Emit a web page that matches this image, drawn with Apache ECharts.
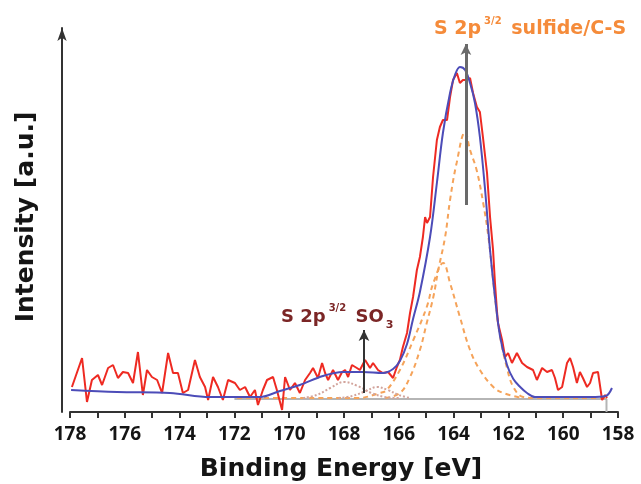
<!DOCTYPE html>
<html>
<head>
<meta charset="utf-8">
<script src="https://cdn.jsdelivr.net/npm/echarts@6/dist/echarts.min.js"></script>
<style>
  html, body { margin: 0; padding: 0; background: #fff; }
  #chart { width: 641px; height: 484px; }
</style>
</head>
<body>
<div id="chart"></div>
<script>
// binding energy ticks (eV)
const xTicks = [178, 176, 174, 172, 170, 168, 166, 164, 162, 160, 158];

// measured spectrum (red)
const redE = [177.93,177.56,177.38,177.20,176.98,176.83,176.61,176.43,176.25,176.07,
  175.88,175.70,175.52,175.34,175.19,175.01,174.82,174.64,174.42,174.24,
  174.06,173.88,173.69,173.44,173.26,173.07,172.96,172.78,172.60,172.42,
  172.23,171.98,171.80,171.61,171.43,171.25,171.14,170.96,170.81,170.59,
  170.45,170.26,170.15,169.97,169.79,169.61,169.42,169.24,169.13,168.95,
  168.80,168.69,168.58,168.40,168.22,168.07,167.96,167.85,167.71,167.53,
  167.42,167.23,167.05,166.94,166.76,166.58,166.39,166.21,166.07,165.96,
  165.85,165.70,165.59,165.48,165.34,165.23,165.12,165.04,164.97,164.86,
  164.75,164.61,164.50,164.39,164.24,164.13,164.02,163.88,163.77,163.66,
  163.51,163.40,163.29,163.15,163.04,162.93,162.78,162.67,162.56,162.49,
  162.42,162.38,162.23,162.12,162.01,161.87,161.69,161.50,161.32,161.10,
  160.96,160.77,160.59,160.41,160.30,160.19,160.04,159.86,159.75,159.64,
  159.50,159.39,159.28,159.13,159.02,158.91,158.73,158.58,158.47,158.40];
const redI = [25,54,10,32,37,27,44,47,34,40,
  39,29,60,17,42,35,32,19,59,39,
  39,19,22,52,35,25,12,35,25,12,
  32,29,22,25,15,22,7,22,32,35,
  22,2,35,22,29,19,32,39,44,34,
  49,39,32,42,32,40,42,35,47,44,
  42,52,44,49,42,39,40,34,45,52,
  65,79,99,115,142,155,175,195,189,195,
  235,272,285,292,292,315,332,339,329,332,
  332,334,319,305,300,275,239,195,162,129,
  102,89,72,55,59,49,59,49,45,42,
  32,44,40,42,34,22,25,49,54,45,
  29,40,34,25,29,39,40,12,17,14];

// fitted envelope (blue)
const fitE = [177.96,176.28,174.35,172.89,171.91,171.07,170.34,169.61,168.77,168.04,
  167.31,166.58,166.21,165.96,165.70,165.48,165.23,164.86,164.61,164.39,
  164.13,163.95,163.77,163.58,163.40,163.22,163.04,162.85,162.67,162.49,
  162.30,162.05,161.82,161.57,161.32,161.03,160.0,159.0,158.45,158.22];
const fitI = [22,20,19,15,15,15,21,27,36,40,
  40,39,43,51,68,93,120,175,229,279,
  319,337,345,342,329,309,275,222,162,115,
  75,47,33,25,19,15,15,15,16,24];

// sulfide / C-S components (orange dashed)
const p1E = [166.5,165.96,165.59,165.23,164.98,164.74,164.56,164.31,164.13,163.89,
  163.58,163.40,163.16,162.92,162.73,162.49,162.30,162.06,161.82,161.46,
  161.0,160.0,159.0,158.42];
const p1I = [14,19,35,62,89,115,142,175,212,249,
  280,262,242,209,175,115,75,45,25,15,
  14,14,14,14];
const p2E = [171.9,169.0,167.5,166.69,166.44,165.96,165.47,164.98,164.74,164.38,
  164.13,163.77,163.40,163.04,162.55,162.19,161.5];
const p2I = [14,14,14,19,22,42,72,105,129,149,
  129,95,62,42,25,19,14];

// SO3 components (dotted)
const s1E = [169.5,169.0,168.5,168.0,167.5,167.0,166.5,166.0];
const s1I = [14,17,24,30,26,19,15,14];
const s2E = [168.2,167.7,167.2,166.8,166.4,166.0,165.6];
const s2I = [14,16,21,25,22,17,14];

// background (grey)
const bgE = [172.0, 158.42, 158.42];
const bgI = [13, 13, 0];

const pairs = (xs, ys) => xs.map((x, i) => [x, ys[i]]);

const chart = echarts.init(document.getElementById("chart"));

const option = {
  animation: false,
  grid: { left: 70, right: 23, top: 28, bottom: 72 },
  xAxis: {
    type: "value",
    inverse: true,
    min: 158,
    max: 178,
    interval: 2,
    axisLine: { lineStyle: { color: "#333", width: 2 } },
    axisTick: { length: 6, lineStyle: { color: "#333", width: 2 } },
    minorTick: { show: true, splitNumber: 2, length: 6, lineStyle: { color: "#333", width: 2 } },
    splitLine: { show: false },
    axisLabel: {
      margin: 13,
      fontFamily: "Open Sans",
      fontWeight: "bold",
      fontSize: 19,
      color: "#151515",
      formatter: (v) => (xTicks.includes(v) ? String(v) : ""),
    },
  },
  yAxis: {
    type: "value",
    min: 0,
    max: 384,
    offset: 8,
    axisLine: {
      show: true,
      symbol: ["none", "arrow"],
      symbolSize: [7, 13],
      lineStyle: { color: "#333", width: 2 },
    },
    axisTick: { show: false },
    axisLabel: { show: false },
    splitLine: { show: false },
  },
  series: [
    {
      name: "background",
      type: "line",
      data: pairs(bgE, bgI),
      symbol: "none",
      lineStyle: { color: "#b5b5b5", width: 2 },
    },
    {
      name: "S2p sulfide",
      type: "line",
      smooth: 0.4,
      data: pairs(p1E, p1I),
      symbol: "none",
      lineStyle: { color: "#f5a35a", width: 2, type: [5, 4] },
    },
    {
      name: "C-S",
      type: "line",
      smooth: 0.4,
      data: pairs(p2E, p2I),
      symbol: "none",
      lineStyle: { color: "#f5a35a", width: 2, type: [5, 4] },
    },
    {
      name: "SO3 a",
      type: "line",
      smooth: 0.4,
      data: pairs(s1E, s1I),
      symbol: "none",
      lineStyle: { color: "#d2a49c", width: 2, type: "dotted" },
    },
    {
      name: "SO3 b",
      type: "line",
      smooth: 0.4,
      data: pairs(s2E, s2I),
      symbol: "none",
      lineStyle: { color: "#d2a49c", width: 2, type: "dotted" },
    },
    {
      name: "measured",
      type: "line",
      data: pairs(redE, redI),
      symbol: "none",
      lineStyle: { color: "#ee2a22", width: 2 },
    },
    {
      name: "fit",
      type: "line",
      smooth: 0.35,
      data: pairs(fitE, fitI),
      symbol: "none",
      lineStyle: { color: "#4c4cb8", width: 2 },
      markLine: {
        silent: true,
        symbol: ["none", "arrow"],
        symbolSize: [8, 11],
        label: { show: false },
        data: [
          [
            { coord: [163.55, 207], lineStyle: { color: "#6a6a6a", width: 3, type: "solid" } },
            { coord: [163.55, 368] },
          ],
          [
            { coord: [167.27, 19], lineStyle: { color: "#333", width: 2, type: "solid" } },
            { coord: [167.27, 82] },
          ],
        ],
      },
    },
  ],
  graphic: [
    {
      type: "text",
      x: 434,
      y: 29,
      style: {
        text: "{m|S 2p}{s|3/2}{m| sulfide/C-S}",
        verticalAlign: "middle",
        rich: {
          m: { fontFamily: "DejaVu Sans", fontWeight: "bold", fontSize: 19, fill: "#f58b3a", lineHeight: 26 },
          s: { fontFamily: "DejaVu Sans", fontWeight: "bold", fontSize: 10, fill: "#f58b3a", verticalAlign: "top", lineHeight: 26, padding: [0, 3, 0, 3] },
        },
      },
    },
    {
      type: "text",
      x: 281,
      y: 317,
      style: {
        text: "{m|S 2p}{s|3/2}{m| SO}{b|3}",
        verticalAlign: "middle",
        rich: {
          m: { fontFamily: "DejaVu Sans", fontWeight: "bold", fontSize: 18, fill: "#7b2626", lineHeight: 28 },
          s: { fontFamily: "DejaVu Sans", fontWeight: "bold", fontSize: 10, fill: "#7b2626", verticalAlign: "top", lineHeight: 28, padding: [0, 3, 0, 3] },
          b: { fontFamily: "DejaVu Sans", fontWeight: "bold", fontSize: 11, fill: "#7b2626", verticalAlign: "bottom", lineHeight: 28, padding: [0, 0, 0, 2] },
        },
      },
    },
    {
      type: "text",
      x: 341,
      y: 469,
      style: {
        text: "Binding Energy [eV]",
        align: "center",
        verticalAlign: "middle",
        fontFamily: "DejaVu Sans",
        fontWeight: "bold",
        fontSize: 25,
        fill: "#151515",
      },
    },
    {
      type: "text",
      x: 26,
      y: 217,
      rotation: Math.PI / 2,
      style: {
        text: "Intensity [a.u.]",
        align: "center",
        verticalAlign: "middle",
        fontFamily: "DejaVu Sans",
        fontWeight: "bold",
        fontSize: 25,
        fill: "#151515",
      },
    },
  ],
};

chart.setOption(option);
</script>
</body>
</html>
